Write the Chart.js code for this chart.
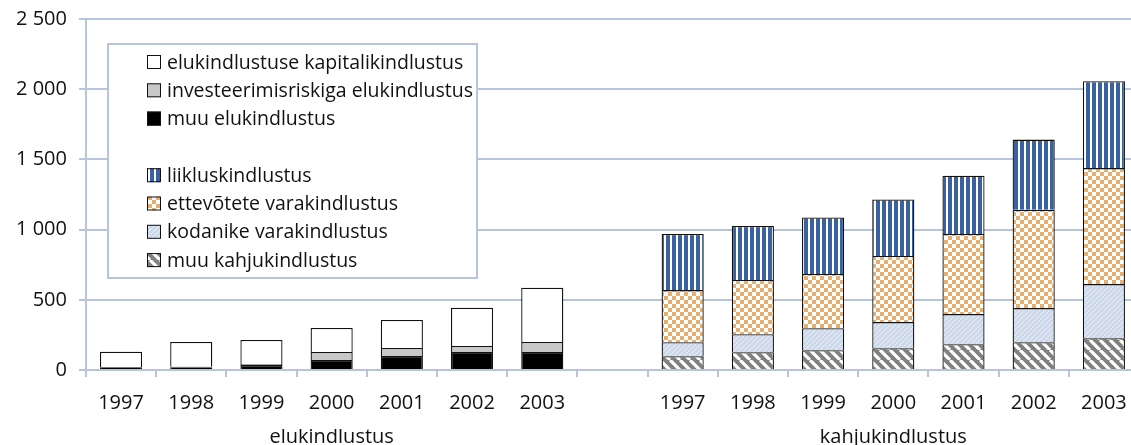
<!DOCTYPE html>
<html>
<head>
<meta charset="utf-8">
<script src="https://cdn.jsdelivr.net/npm/chart.js@4.4.0/dist/chart.umd.min.js"></script>
<style>
  html, body { margin: 0; padding: 0; background: #ffffff; overflow: hidden; }
  #wrap { width: 1145px; height: 445px; }
</style>
</head>
<body>
<div id="wrap"><canvas id="c" width="1145" height="445"></canvas></div>
<script>
// ---- data ----
const years = ['1997', '1998', '1999', '2000', '2001', '2002', '2003'];
const groupNames = ['elukindlustus', 'kahjukindlustus'];

// life insurance (elukindlustus)
const muuElukindlustus = [20, 20, 35, 71, 100, 129, 129];
const investeerimisriskiga = [0, 3, 7, 58, 57, 42, 71];
const kapitalikindlustus = [110, 177, 172, 171, 200, 272, 386];

// non-life insurance (kahjukindlustus)
const muuKahjukindlustus = [98, 126, 141, 155, 184, 198, 226];
const kodanikeVara = [100, 129, 157, 186, 214, 243, 386];
const ettevoteteVara = [371, 386, 386, 471, 571, 700, 826];
const liikluskindlustus = [400, 385, 402, 402, 415, 500, 619];

const yTicks = [0, 500, 1000, 1500, 2000, 2500];

// ---- build categories ----
const labels = [...years, '', ...years];
const gap = [null];
const nulls = years.map(() => null);
const lifeData = arr => [...arr, ...gap, ...nulls];
const nonLifeData = arr => [...nulls, ...gap, ...arr];

// ---- patterns ----
function tile(w, h, draw) {
  const c = document.createElement('canvas');
  c.width = w; c.height = h;
  const x = c.getContext('2d');
  draw(x, w, h);
  return document.getElementById('c').getContext('2d').createPattern(c, 'repeat');
}
const patStripes = tile(6, 6, (x) => {
  x.fillStyle = '#ffffff'; x.fillRect(0, 0, 6, 6);
  x.fillStyle = '#3A62A0'; x.fillRect(0, 0, 4, 6);
});
const patChecker = tile(8, 8, (x) => {
  x.fillStyle = '#ffffff'; x.fillRect(0, 0, 8, 8);
  x.fillStyle = '#E6AF70'; x.fillRect(0, 0, 4, 4); x.fillRect(4, 4, 4, 4);
});
const patLightHatch = tile(5, 5, (x, s) => {
  x.fillStyle = '#CDD8EA'; x.fillRect(0, 0, s, s);
  x.strokeStyle = '#EDF1F8'; x.lineWidth = 1;
  x.beginPath();
  for (const o of [-s, 0, s]) { x.moveTo(o, s); x.lineTo(o + s, 0); }
  x.stroke();
});
const patGrayHatch = tile(10, 10, (x, s) => {
  x.fillStyle = '#808080'; x.fillRect(0, 0, s, s);
  x.strokeStyle = '#ffffff'; x.lineWidth = 3.2;
  x.beginPath();
  for (const o of [-s, 0, s]) { x.moveTo(o, 0); x.lineTo(o + s, s); }
  x.stroke();
});

const edge = '#111111';
const datasets = [
  { label: 'muu elukindlustus', data: lifeData(muuElukindlustus), backgroundColor: '#000000' },
  { label: 'investeerimisriskiga elukindlustus', data: lifeData(investeerimisriskiga), backgroundColor: '#C8C8C8' },
  { label: 'elukindlustuse kapitalikindlustus', data: lifeData(kapitalikindlustus), backgroundColor: '#ffffff' },
  { label: 'muu kahjukindlustus', data: nonLifeData(muuKahjukindlustus), backgroundColor: patGrayHatch },
  { label: 'kodanike varakindlustus', data: nonLifeData(kodanikeVara), backgroundColor: patLightHatch },
  { label: 'ettevõtete varakindlustus', data: nonLifeData(ettevoteteVara), backgroundColor: patChecker },
  { label: 'liikluskindlustus', data: nonLifeData(liikluskindlustus), backgroundColor: patStripes },
].map(d => Object.assign(d, {
  borderColor: edge, borderWidth: 1.3, barPercentage: 0.6, categoryPercentage: 1.0
}));

// legend order: life group (top-down), blank row, non-life group (top-down)
const legendOrder = [2, 1, 0, null, 6, 5, 4, 3];

const FONT = '"Open Sans", "DejaVu Sans", sans-serif';
const gridColor = '#B7C5DC';

const boxLegend = {
  id: 'boxLegend',
  afterDraw(chart) {
    const ctx = chart.ctx;
    const bx = 108, by = 44, bw = 369, bh = 234;
    ctx.save();
    ctx.fillStyle = '#ffffff';
    ctx.fillRect(bx, by, bw, bh);
    ctx.strokeStyle = gridColor; ctx.lineWidth = 2;
    ctx.strokeRect(bx, by, bw, bh);
    ctx.font = '19.5px ' + FONT;
    ctx.textBaseline = 'middle';
    const rowH = 28.3, y0 = by + 18;
    legendOrder.forEach((idx, i) => {
      if (idx === null) return;
      const ds = chart.data.datasets[idx];
      const y = y0 + i * rowH;
      ctx.fillStyle = ds.backgroundColor;
      ctx.fillRect(147, y - 7, 14, 14);
      ctx.strokeStyle = '#111111'; ctx.lineWidth = 1;
      ctx.strokeRect(147.5, y - 6.5, 13, 13);
      ctx.fillStyle = '#111111';
      ctx.fillText(ds.label, 167, y + 1);
    });
    ctx.restore();
  }
};

const fmt = v => String(v).replace(/\B(?=(\d{3})+(?!\d))/g, ' ');
const mid = Math.floor(years.length / 2);

new Chart(document.getElementById('c'), {
  type: 'bar',
  data: { labels, datasets },
  plugins: [boxLegend],
  options: {
    responsive: false,
    animation: false,
    layout: { padding: { left: 4, right: 6, top: 8, bottom: 0 } },
    plugins: { legend: { display: false }, tooltip: { enabled: false } },
    scales: {
      x: {
        stacked: true,
        weight: 0,
        offset: true,
        grid: { display: true, drawOnChartArea: false, color: gridColor, lineWidth: 2, tickLength: 7, offset: true },
        border: { display: true, color: gridColor, width: 2 },
        ticks: { color: '#111111', font: { family: FONT, size: 20 }, padding: 14, autoSkip: false, maxRotation: 0, minRotation: 0 }
      },
      x2: {
        type: 'category',
        labels: labels,
        position: 'bottom',
        weight: 1,
        offset: true,
        grid: { display: false, drawTicks: false },
        border: { display: false },
        ticks: {
          color: '#111111', font: { family: FONT, size: 20, lineHeight: 1.0 }, padding: -2,
          autoSkip: false, maxRotation: 0, minRotation: 0,
          callback: (v, i) => i === mid ? groupNames[0] : (i === years.length + 1 + mid ? groupNames[1] : '')
        }
      },
      y: {
        stacked: true,
        min: yTicks[0], max: yTicks[yTicks.length - 1],
        afterBuildTicks: s => { s.ticks = yTicks.map(v => ({ value: v })); },
        grid: { color: gridColor, lineWidth: 2, tickLength: 7 },
        border: { display: true, color: gridColor, width: 2 },
        ticks: { color: '#111111', font: { family: FONT, size: 20, lineHeight: 0.7 }, padding: 12, callback: v => fmt(v) }
      }
    }
  }
});
</script>
</body>
</html>
